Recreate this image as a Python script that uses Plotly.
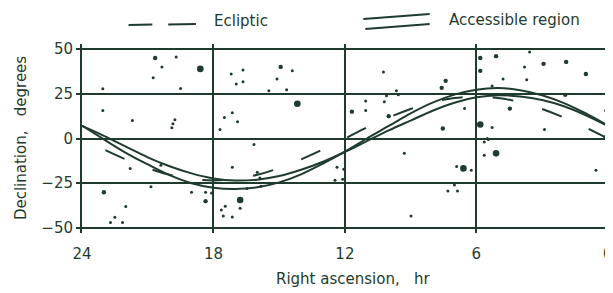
import plotly.graph_objects as go

INK = "#1f3b2e"
FONT = "DejaVu Sans"

# Right ascension sample points (hours) for the curves
ra_hours = [0, 1, 2, 3, 4, 5, 6, 7, 8, 9, 10, 11, 12, 13, 14, 15, 16, 17, 18, 19, 20, 21, 22, 23, 24]

# Ecliptic declination (degrees)
ecliptic_dec = [0, 6.1, 11.7, 16.5, 20.3, 22.6, 23.4, 22.6, 20.3, 16.5, 11.7, 6.1, 0,
                -6.1, -11.7, -16.5, -20.3, -22.6, -23.4, -22.6, -20.3, -16.5, -11.7, -6.1, 0]

# Accessible region boundaries (degrees)
region_outer = [7.2, 14, 19.8, 24.2, 27, 28.2, 27.3, 24.5, 20, 14, 7, 0, -7.3,
                -14, -20, -24.5, -27.3, -28.2, -27.5, -25, -20.5, -14.5, -8, -0.5, 7.2]
region_inner = [7, 13, 18, 21.5, 23.5, 24.2, 23, 20, 15.5, 10, 4.5, -1.5, -7.5,
                -13, -17.5, -21, -23, -23.5, -22.3, -19.5, -15.5, -10.5, -4.5, 1.5, 7]

# Stars: right ascension (hr), declination (deg), brightness class (1 faint .. 3 bright)
star_ra = [24.14, 24.14, 23.05, 23.05, 21.7, 20.66, 20.35, 20.75, 19.7, 19.5, 18.6,
           19.9, 19.85, 19.76, 21.8, 20.4, 20.85, 23.0, 22.0, 22.5, 22.7, 22.15,
           19.0, 18.36, 18.36, 17.19, 16.65, 16.96, 16.65, 14.93, 15.1, 14.4, 15.47,
           14.66, 14.17, 17.5, 17.14, 16.9, 17.7, 16.15, 17.14, 16.0, 15.88, 18.09,
           16.78, 17.46, 17.64, 16.78, 17.55, 17.14, 16.47, 15.83, 12.45, 12.1, 12.05,
           12.36, 11.68, 11.05, 11.05, 10.24, 10.2, 10.1, 9.65, 9.56, 10.0, 9.29,
           5.82, 5.82, 5.1, 3.57, 3.8, 2.93, 1.9, 1.0, 3.7, 4.78, 7.4, 7.58, 5.28,
           1.94, 6.54, 4.47, 7.53, 5.82, 5.28, 2.89, 0.1, 0.14, 5.5, 5.45, 5.64,
           5.1, 5.64, 6.59, 6.9, 6.23, 7.0, 7.3, 6.86, 0.54, 8.98]
star_dec = [29.4, 15.6, 27.8, 15.6, 10, 45, 40, 34, 45.5, 28, 38.9,
            6, 8.3, 10.5, -16.7, -15, -27, -30, -38, -44, -47, -47,
            -30, -30, -35, 36, 38.3, 30.5, 31.7, 40, 33.3, 37.8, 26.7,
            27.2, 19.4, 11.7, 14.4, 9.4, 5, -3.3, -16, -18.9, -22, -30.5,
            -34.4, -37.8, -40, -39, -43.3, -43.9, -28, -26.7, -23.3, -22.8, -17.2,
            -16.1, 15, 21, 15.6, 37.2, 20.6, 23.9, 26.7, 24.4, 12.5, -8.3,
            45, 37.8, 46, 48.3, 40, 41.7, 42.8, 36, 32.8, 33.3, 32.2, 28.3, 29.4,
            24.4, 16.7, 16.7, 5.6, 7.8, 6.1, 5, 15.6, 1, 0, -0.5, -2,
            -8.3, -9.4, -16.7, -15.6, -17.8, -26, -29.4, -29.4, -17.8, -43.3]
star_class = [1, 1, 1, 1, 1, 2, 1, 1, 1, 1, 3,
              1, 1, 1, 1, 1, 1, 2, 1, 1, 1, 1,
              1, 1, 2, 1, 1, 1, 1, 2, 1, 1, 1,
              1, 3, 1, 1, 1, 1, 1, 1, 1, 1, 1,
              3, 1, 1, 1, 1, 1, 1, 1, 1, 1, 1,
              1, 2, 1, 1, 1, 1, 1, 1, 1, 2, 1,
              2, 2, 2, 1, 1, 2, 2, 2, 1, 1, 2, 2, 1,
              2, 1, 2, 2, 3, 1, 1, 1, 1, 1, 1, 1,
              3, 1, 3, 1, 1, 1, 1, 1, 1, 1]

x_ticks = [24, 18, 12, 6, 0]
x_ticktext = ["24", "18", "12", "6", "0"]
y_ticks = [-50, -25, 0, 25, 50]
y_ticktext = ["\u221250", "\u221225", "0", "25", "50"]

size_map = {1: 3.0, 2: 4.4, 3: 6.6}

fig = go.Figure()

fig.add_trace(go.Scatter(
    x=star_ra, y=star_dec, mode="markers",
    marker=dict(color=INK, opacity=1, size=[size_map[c] for c in star_class], line=dict(width=0)),
    cliponaxis=False, showlegend=False, hoverinfo="skip"))

fig.add_trace(go.Scatter(
    x=ra_hours, y=region_outer, mode="lines", line=dict(color=INK, width=2, shape="spline"),
    showlegend=False))
fig.add_trace(go.Scatter(
    x=ra_hours, y=region_inner, mode="lines", line=dict(color=INK, width=2, shape="spline"),
    showlegend=False))
fig.add_trace(go.Scatter(
    x=ra_hours, y=ecliptic_dec, mode="lines",
    line=dict(color=INK, width=2, shape="spline", dash="21px,30px"),
    showlegend=False))

# Page offset of the plot div (browser default body margin)
OFF = 8
PLOT_L, PLOT_R, PLOT_T, PLOT_B = 82, 613, 44, 233  # plot area in page pixels


def px_x(p):
    return (p - PLOT_L) / float(PLOT_R - PLOT_L)


def px_y(p):
    return (PLOT_B - p) / float(PLOT_B - PLOT_T)


legend_lines = [
    ((129, 25), (153, 24.5)),
    ((169, 24.5), (197, 24)),
    ((366, 19), (433, 14)),
    ((368, 29), (433, 24)),
]
for (a, b) in legend_lines:
    fig.add_shape(type="line", xref="paper", yref="paper",
                  x0=px_x(a[0]), y0=px_y(a[1]), x1=px_x(b[0]), y1=px_y(b[1]),
                  line=dict(color=INK, width=2))

fig.add_annotation(text="Ecliptic", xref="paper", yref="paper", x=px_x(213), y=px_y(21),
                   xanchor="left", yanchor="middle", showarrow=False,
                   font=dict(family=FONT, size=15, color=INK))
fig.add_annotation(text="Accessible region", xref="paper", yref="paper", x=px_x(450), y=px_y(20),
                   xanchor="left", yanchor="middle", showarrow=False,
                   font=dict(family=FONT, size=15, color=INK))
fig.add_annotation(text="Declination,\u00a0\u00a0\u00a0degrees", xref="paper", yref="paper",
                   x=px_x(20), y=0.5, textangle=-90, xanchor="center", yanchor="middle",
                   showarrow=False, font=dict(family=FONT, size=15, color=INK))
fig.add_annotation(text="Right ascension,\u00a0\u00a0\u00a0hr", xref="paper", yref="paper",
                   x=px_x(356), y=px_y(279), xanchor="center", yanchor="middle",
                   showarrow=False, font=dict(family=FONT, size=15, color=INK))

W, H = 613 - OFF, 293 - OFF
fig.update_layout(
    width=W, height=H,
    margin=dict(l=PLOT_L - OFF, r=W - (PLOT_R - OFF), t=PLOT_T - OFF, b=H - (PLOT_B - OFF)),
    paper_bgcolor="white", plot_bgcolor="white",
    font=dict(family=FONT, size=15, color=INK),
    showlegend=False,
    xaxis=dict(range=[24, -0.01], tickvals=x_ticks, ticktext=x_ticktext,
               showgrid=True, gridcolor=INK, gridwidth=1.5, zeroline=False,
               showline=False, ticks="", ticklabeloverflow="allow",
               ticklabelstandoff=10,
               tickfont=dict(family=FONT, size=15, color=INK)),
    yaxis=dict(range=[-52.8, 52.8], tickvals=y_ticks, ticktext=y_ticktext,
               showgrid=True, gridcolor=INK, gridwidth=2, zeroline=False,
               showline=True, linecolor=INK, linewidth=2,
               ticks="outside", ticklen=4, tickcolor=INK, tickwidth=2,
               tickfont=dict(family=FONT, size=15, color=INK)),
)

fig.write_html("out.html")
